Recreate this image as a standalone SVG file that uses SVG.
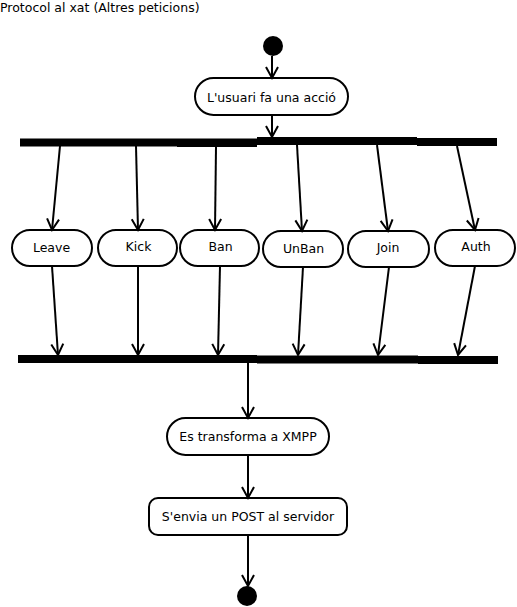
<svg xmlns="http://www.w3.org/2000/svg" width="517" height="607" viewBox="0 0 517 607">
<style>
text{font-family:"DejaVu Sans","Liberation Sans",sans-serif;font-size:12.5px;fill:#000}
.n{fill:#fff;stroke:#000;stroke-width:2}
.bar{fill:#000}
.c{stroke:#000;stroke-width:2;fill:none;marker-end:url(#arr)}
</style>
<defs>
<marker id="arr" viewBox="-14 -8 16 16" markerWidth="16" markerHeight="16" refX="0" refY="0" markerUnits="userSpaceOnUse" orient="auto" overflow="visible">
<path d="M-11,-6 L0,0 L-11,6" fill="none" stroke="#000" stroke-width="2"/>
</marker>
</defs>
<rect width="517" height="607" fill="#fff"/>
<text x="0" y="12">Protocol al xat (Altres peticions)</text>
<g id="start"><circle cx="273" cy="46" r="10" fill="#000"/></g>
<g id="accio"><rect class="n" x="195" y="78" width="153" height="37" rx="18.5"/><text x="271.5" y="101.5" text-anchor="middle">L'usuari fa una acció</text></g>
<g id="fork">
<rect class="bar" x="20" y="138.5" width="78" height="8"/>
<rect class="bar" x="98" y="138.5" width="79" height="8"/>
<rect class="bar" x="177" y="138.5" width="80" height="8.5"/>
<rect class="bar" x="257" y="137" width="160" height="8"/>
<rect class="bar" x="417" y="138" width="80" height="8"/>
</g>
<g id="leave"><rect class="n" x="12" y="230" width="80" height="36" rx="18"/><text x="51.5" y="252" text-anchor="middle">Leave</text></g>
<g id="kick"><rect class="n" x="98" y="230" width="79" height="36" rx="18"/><text x="138.5" y="251" text-anchor="middle">Kick</text></g>
<g id="ban"><rect class="n" x="180" y="230" width="79" height="36" rx="18"/><text x="220.5" y="251" text-anchor="middle">Ban</text></g>
<g id="unban"><rect class="n" x="263" y="231" width="80" height="36" rx="18"/><text x="303.5" y="253" text-anchor="middle">UnBan</text></g>
<g id="join"><rect class="n" x="348" y="231" width="81" height="36" rx="18"/><text x="388" y="252" text-anchor="middle">Join</text></g>
<g id="auth"><rect class="n" x="435" y="230" width="80" height="36" rx="18"/><text x="476" y="251" text-anchor="middle">Auth</text></g>
<g id="join-bar">
<rect class="bar" x="18" y="355" width="79" height="8"/>
<rect class="bar" x="97" y="355" width="80" height="8"/>
<rect class="bar" x="177" y="355" width="80" height="8"/>
<rect class="bar" x="257" y="355.5" width="161" height="8"/>
<rect class="bar" x="418" y="356" width="80" height="8"/>
</g>
<g id="xmpp"><rect class="n" x="167" y="418" width="162" height="37" rx="18.5"/><text x="248" y="441" text-anchor="middle">Es transforma a XMPP</text></g>
<g id="post"><rect class="n" x="149" y="498" width="198" height="37" rx="9"/><text x="248" y="521" text-anchor="middle">S'envia un POST al servidor</text></g>
<g id="end"><circle cx="247" cy="596" r="10" fill="#000"/></g>
<g id="connectors">
<line class="c" x1="272" y1="56" x2="272" y2="78"/>
<line class="c" x1="272" y1="115" x2="272" y2="137"/>
<line class="c" x1="60" y1="146" x2="52" y2="230"/>
<line class="c" x1="136" y1="146" x2="138" y2="230"/>
<line class="c" x1="216" y1="147" x2="215" y2="230"/>
<line class="c" x1="297" y1="145" x2="302" y2="231"/>
<line class="c" x1="377" y1="145" x2="388" y2="231"/>
<line class="c" x1="457" y1="146" x2="475" y2="230"/>
<line class="c" x1="52" y1="266" x2="58" y2="355"/>
<line class="c" x1="138" y1="266" x2="138" y2="355"/>
<line class="c" x1="220" y1="266" x2="218" y2="355"/>
<line class="c" x1="303" y1="267" x2="298" y2="355"/>
<line class="c" x1="389" y1="267" x2="378" y2="355"/>
<line class="c" x1="475" y1="266" x2="458" y2="355"/>
<line class="c" x1="248" y1="363" x2="248" y2="418"/>
<line class="c" x1="248" y1="455" x2="248" y2="498"/>
<line class="c" x1="248" y1="535" x2="248" y2="586"/>
</g>
</svg>
